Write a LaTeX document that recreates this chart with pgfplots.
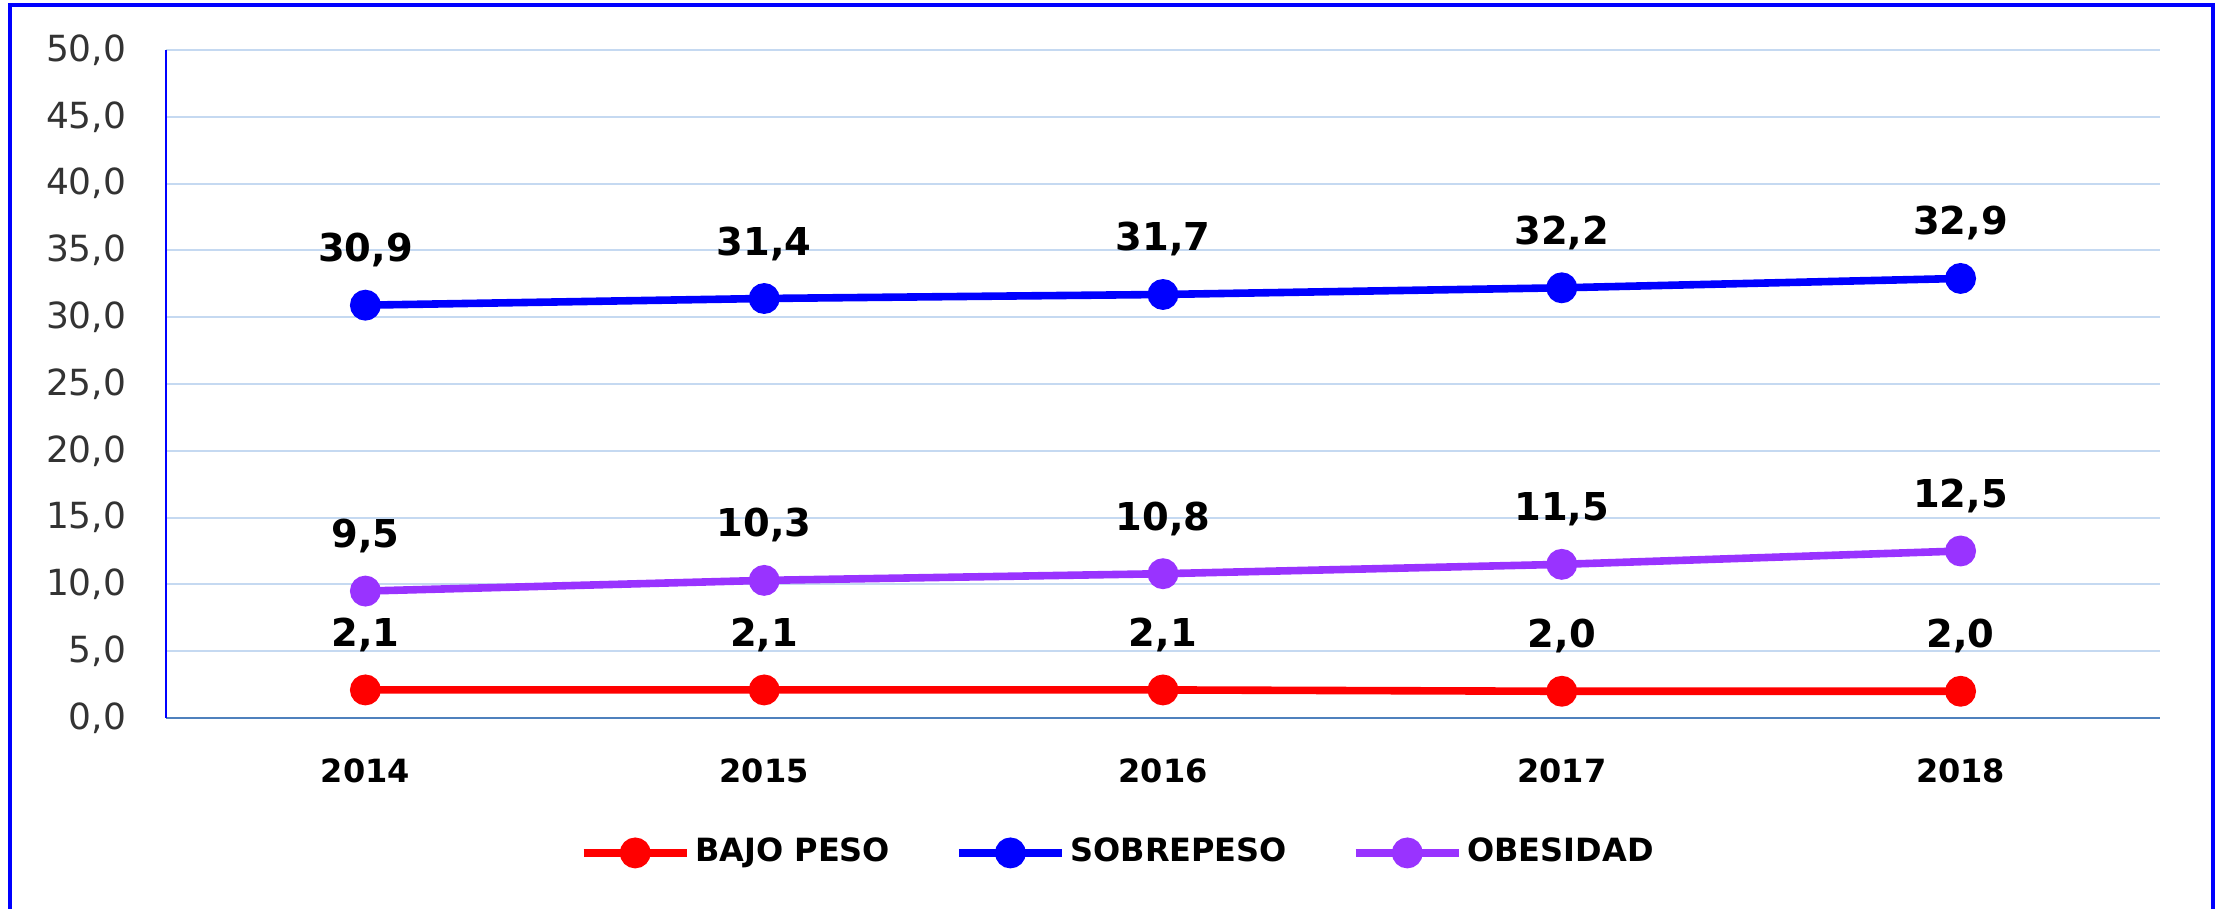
\documentclass[border=0pt]{standalone}
\usepackage{fontspec}
\setmainfont{DejaVu Sans}
\usepackage{pgfplots}
\pgfplotsset{compat=1.18}
\definecolor{bajo}{RGB}{255,0,0}
\definecolor{sobre}{RGB}{0,0,255}
\definecolor{obes}{RGB}{153,51,255}
\definecolor{gridblue}{RGB}{197,217,241}
\definecolor{xaxisblue}{RGB}{79,129,189}

\begin{document}
\begin{tikzpicture}
% page = 2221 x 909 px at 0.25pt per px, axis box origin at (0,0)
\useasboundingbox (-41.5pt,-47.75pt) rectangle (513.75pt,179.5pt);
\draw[sobre, line width=1.2pt] (-39pt,-60pt) -- (-39pt,178.25pt) -- (511.75pt,178.25pt) -- (511.75pt,-60pt);
\begin{axis}[
  at={(0pt,0pt)}, anchor=south west,
  scale only axis, width=498.5pt, height=167pt,
  xmin=-0.5, xmax=4.5, ymin=0, ymax=50,
  xtick={0,1,2,3,4}, xticklabels={2014,2015,2016,2017,2018},
  ytick={0,5,...,50},
  axis x line*=bottom, axis y line*=left,
  x axis line style={xaxisblue, line width=0.7pt, -},
  y axis line style={sobre, line width=0.6pt, -},
  major tick length=0pt,
  ymajorgrids, grid style={gridblue, line width=0.5pt},
  /pgf/number format/fixed, /pgf/number format/fixed zerofill,
  /pgf/number format/precision=1, /pgf/number format/use comma,
  /pgf/number format/assume math mode=true,
  yticklabel style={anchor=east, inner sep=0pt, xshift=-9.75pt,
    font=\fontsize{9}{10}\selectfont, text=black!80},
  xticklabel style={anchor=center, inner sep=0pt, yshift=-13.25pt,
    font=\bfseries\fontsize{8}{9.6}\selectfont},
  nodes near coords,
  nodes near coords style={anchor=center, inner sep=0pt, yshift=13.75pt,
    font=\bfseries\fontsize{9.6}{11}\selectfont, text=black},
  every axis plot/.append style={line width=1.9pt, mark=*, mark size=2.9pt,
    mark options={xscale=1.2}},
  legend columns=3,
  legend style={at={(0.478,-0.202)}, anchor=center, draw=none, fill=none,
    font=\bfseries\fontsize{8}{9.6}\selectfont,
    /tikz/every even column/.append style={column sep=15pt},
    nodes={inner sep=1.2pt}},
  legend image code/.code={\draw[#1, mark repeat=2, mark phase=2]
    plot coordinates {(0pt,0pt)(12.9pt,0pt)(25.75pt,0pt)};},
  clip=false,
]
\addplot[bajo, mark options={fill=bajo}] coordinates {(0,2.1)(1,2.1)(2,2.1)(3,2.0)(4,2.0)};
\addlegendentry{BAJO PESO}
\addplot[sobre, mark options={fill=sobre}] coordinates {(0,30.9)(1,31.4)(2,31.7)(3,32.2)(4,32.9)};
\addlegendentry{SOBREPESO}
\addplot[obes, mark options={fill=obes}] coordinates {(0,9.5)(1,10.3)(2,10.8)(3,11.5)(4,12.5)};
\addlegendentry{OBESIDAD}
\end{axis}
\end{tikzpicture}
\end{document}
